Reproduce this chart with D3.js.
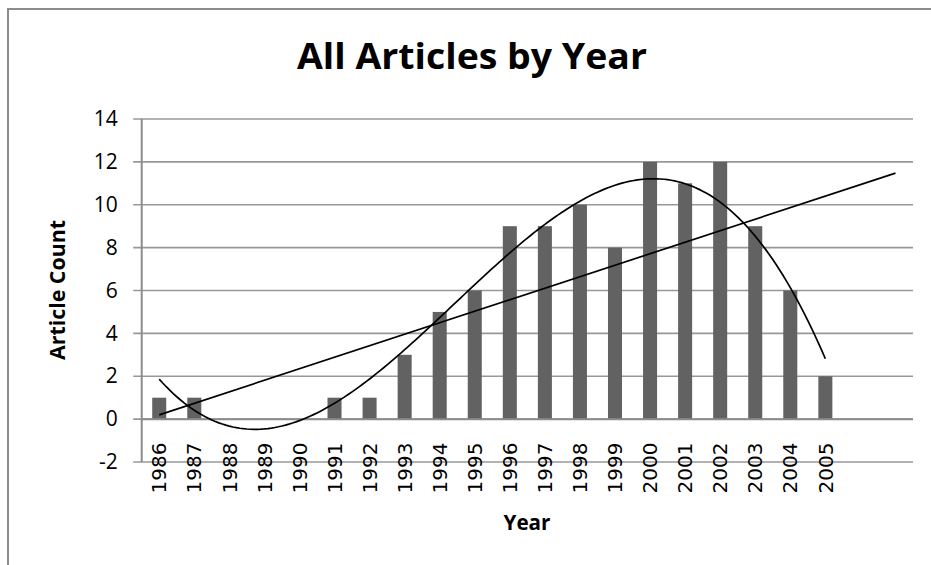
<!DOCTYPE html>
<html>
<head>
<meta charset="utf-8">
<script src="https://cdn.jsdelivr.net/npm/d3@7"></script>
<style>
  body { margin: 0; background: #fff; }
  svg { display: block; }
</style>
</head>
<body>
<script>
// data
const years = [1986, 1987, 1988, 1989, 1990, 1991, 1992, 1993, 1994, 1995,
               1996, 1997, 1998, 1999, 2000, 2001, 2002, 2003, 2004, 2005];
const counts = [1, 1, 0, 0, 0, 1, 1, 3, 5, 6, 9, 9, 10, 8, 12, 11, 12, 9, 6, 2];
const forecastYears = [2006, 2007]; // linear trend is forecast 2 periods forward
const yTicks = [-2, 0, 2, 4, 6, 8, 10, 12, 14];

const W = 931, H = 565;
const plot = { left: 141.7, right: 913, top: 119, bottom: 462 };

const svg = d3.select('body')
  .append('svg')
  .attr('width', W)
  .attr('height', H)

// chart frame (right and bottom edges fall outside the picture)
svg.append('rect')
  .attr('x', 8).attr('y', 9)
  .attr('width', 960).attr('height', 600)
  .attr('fill', 'none')
  .attr('stroke', '#8c8c8c')
  .attr('stroke-width', 2)

const x = d3.scaleBand()
  .domain(years.concat(forecastYears))
  .range([plot.left, plot.right])
  .padding(0)
const yScale = d3.scaleLinear().domain([-2, 14]).range([plot.bottom, plot.top])

const cx = function (yr) { return x(yr) + x.bandwidth() / 2 }

// gridlines + left tick marks
svg.append('g')
  .selectAll('line')
  .data(yTicks)
  .enter()
  .append('line')
  .attr('x1', plot.left - 8.5)
  .attr('x2', plot.right)
  .attr('y1', function (d) { return yScale(d) })
  .attr('y2', function (d) { return yScale(d) })
  .attr('stroke', '#989898')
  .attr('stroke-width', 1.6)

// Y-Axis labels (plain hyphen for the minus, like the original)
svg.append('g')
  .attr('transform', 'translate(' + plot.left + ',0)')
  .call(d3.axisLeft(yScale).tickValues(yTicks).tickSize(0).tickPadding(24)
    .tickFormat(function (d) { return String(d) }))
  .call(function (g) { g.select('.domain').remove() })
  .selectAll('text')
  .attr('font-family', '"Open Sans", sans-serif')
  .attr('font-size', 21)
  .attr('fill', '#000')

// y axis line
svg.append('line')
  .attr('x1', plot.left).attr('x2', plot.left)
  .attr('y1', plot.top).attr('y2', plot.bottom)
  .attr('stroke', '#8c8c8c')
  .attr('stroke-width', 2)

// bars
const barW = x.bandwidth() * 0.4
svg.append('g')
  .selectAll('rect')
  .data(years)
  .enter()
  .append('rect')
  .attr('x', function (d) { return cx(d) - barW / 2 })
  .attr('y', function (d, i) { return yScale(Math.max(counts[i], 0)) })
  .attr('width', barW)
  .attr('height', function (d, i) { return Math.abs(yScale(counts[i]) - yScale(0)) })
  .attr('fill', '#626262')

// x axis at 0
svg.append('line')
  .attr('x1', plot.left).attr('x2', plot.right)
  .attr('y1', yScale(0)).attr('y2', yScale(0))
  .attr('stroke', '#8c8c8c')
  .attr('stroke-width', 2)

// X-Axis labels (rotated)
svg.append('g')
  .attr('transform', 'translate(0,' + yScale(0) + ')')
  .call(d3.axisBottom(x).tickValues(years).tickSize(0).tickPadding(0))
  .call(function (g) { g.select('.domain').remove() })
  .selectAll('text')
  .attr('font-family', '"DejaVu Sans", sans-serif')
  .attr('font-size', 20)
  .attr('fill', '#000')
  .attr('text-anchor', 'end')
  .attr('transform', 'rotate(-90)')
  .attr('x', -23.5)
  .attr('y', 0)
  .attr('dy', '0.36em')

// trend lines, fitted on index 1..20 as Excel does
const n = counts.length
const idx = d3.range(1, n + 1)

// linear least squares
const mx = d3.mean(idx), my = d3.mean(counts)
const slope = d3.sum(idx, function (v, i) { return (v - mx) * (counts[i] - my) }) /
  d3.sum(idx, function (v) { return (v - mx) * (v - mx) })
const icpt = my - slope * mx

// cubic least squares (normal equations)
function polyFit(xs, ys, order) {
  const m = order + 1
  const A = [], b = []
  for (let r = 0; r < m; r++) {
    A.push([])
    for (let c = 0; c < m; c++) A[r].push(d3.sum(xs, function (v) { return Math.pow(v, r + c) }))
    b.push(d3.sum(xs, function (v, i) { return ys[i] * Math.pow(v, r) }))
  }
  for (let p = 0; p < m; p++) {
    let best = p
    for (let r = p + 1; r < m; r++) if (Math.abs(A[r][p]) > Math.abs(A[best][p])) best = r
    const tA = A[p]; A[p] = A[best]; A[best] = tA
    const tb = b[p]; b[p] = b[best]; b[best] = tb
    for (let r = p + 1; r < m; r++) {
      const f = A[r][p] / A[p][p]
      for (let c = p; c < m; c++) A[r][c] -= f * A[p][c]
      b[r] -= f * b[p]
    }
  }
  const coef = new Array(m).fill(0)
  for (let r = m - 1; r >= 0; r--) {
    let s = b[r]
    for (let c = r + 1; c < m; c++) s -= A[r][c] * coef[c]
    coef[r] = s / A[r][r]
  }
  return coef
}
const cubic = polyFit(idx, counts, 3)
const evalPoly = function (t) { return cubic.reduce(function (s, c, k) { return s + c * Math.pow(t, k) }, 0) }

// position in index units -> pixel
const xi = d3.scaleLinear().domain([1, 2]).range([cx(years[0]), cx(years[1])])

const line = d3.line()
  .x(function (d) { return xi(d[0]) })
  .y(function (d) { return yScale(d[1]) })

const allX = years.concat(forecastYears)
svg.append('path')
  .datum([[1, icpt + slope], [allX.length, icpt + slope * allX.length]])
  .attr('d', line)
  .attr('fill', 'none')
  .attr('stroke', '#000')
  .attr('stroke-width', 1.7)

const polyPts = d3.range(1, n + 0.001, 0.1).map(function (t) { return [t, evalPoly(t)] })
svg.append('path')
  .datum(polyPts)
  .attr('d', line)
  .attr('fill', 'none')
  .attr('stroke', '#000')
  .attr('stroke-width', 1.7)

// titles
svg.append('text')
  .text('All Articles by Year')
  .attr('x', 472)
  .attr('y', 69)
  .attr('text-anchor', 'middle')
  .attr('font-family', '"Open Sans", sans-serif')
  .attr('font-weight', 'bold')
  .attr('font-size', 36)
  .attr('textLength', 350)
  .attr('lengthAdjust', 'spacingAndGlyphs')

svg.append('text')
  .text('Article Count')
  .attr('transform', 'translate(65,290) rotate(-90)')
  .attr('text-anchor', 'middle')
  .attr('font-family', '"Open Sans", sans-serif')
  .attr('font-weight', 'bold')
  .attr('font-size', 22)
  .attr('textLength', 140)
  .attr('lengthAdjust', 'spacingAndGlyphs')

svg.append('text')
  .text('Year')
  .attr('x', 527)
  .attr('y', 530)
  .attr('text-anchor', 'middle')
  .attr('font-family', '"Open Sans", sans-serif')
  .attr('font-weight', 'bold')
  .attr('font-size', 22)
  .attr('textLength', 47)
  .attr('lengthAdjust', 'spacingAndGlyphs')
</script>
</body>
</html>
